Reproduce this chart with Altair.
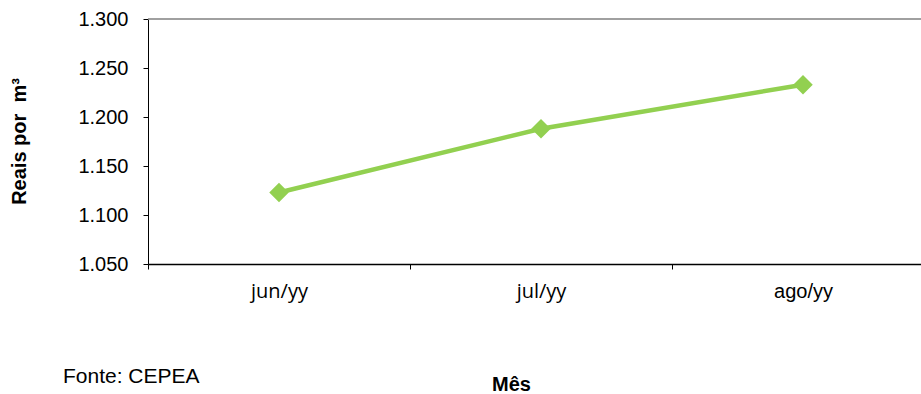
import altair as alt
import pandas as pd

# Monthly price series (reais per cubic metre)
months = ["jun/yy", "jul/yy", "ago/yy"]
prices = [1123, 1188, 1233]

y_ticks = [1050, 1100, 1150, 1200, 1250, 1300]
y_top = 1300
source_note = "Fonte: CEPEA"

df = pd.DataFrame({"mes": months, "preco": prices})

GREEN = "#92D050"
FONT = "Liberation Sans"

x_enc = alt.X(
    "mes:N",
    sort=months,
    scale=alt.Scale(type="band", range=[0, 786], paddingInner=0, paddingOuter=0),
    axis=alt.Axis(
        title="Mês",
        titleFont=FONT,
        titleFontSize=20,
        titleFontWeight="bold",
        titleColor="black",
        titleX=363,
        titleY=126,
        titleAlign="center",
        titleBaseline="alphabetic",
        labelFont={
            "condition": {"test": "datum.value == 'ago/yy'", "value": FONT},
            "value": "Open Sans",
        },
        labelFontSize=20,
        labelColor="black",
        labelAngle=0,
        labelPadding=12,
        tickBand="extent",
        tickSize=5,
        tickColor="black",
        domainColor="black",
        domainWidth=1.5,
        grid=False,
    ),
)

y_enc = alt.Y(
    "preco:Q",
    scale=alt.Scale(domain=[1050, 1300], nice=False, zero=False),
    axis=alt.Axis(
        title="Reais por\u00a0 m³",
        titleFont=FONT,
        titleFontSize=20,
        titleFontWeight="bold",
        titleColor="black",
        titleAngle=270,
        titleX=-129,
        titleY=122,
        titleAlign="center",
        titleBaseline="middle",
        values=y_ticks,
        labelExpr="replace(format(datum.value, ',.0f'), ',', '.')",
        labelFont=FONT,
        labelFontSize=20,
        labelColor="black",
        labelPadding=15,
        tickSize=5,
        tickColor="black",
        domainColor="black",
        domainWidth=1,
        grid=False,
    ),
)

base = alt.Chart(df)

top_rule = alt.Chart(pd.DataFrame({"v": [y_top]})).mark_rule(
    color="#808080", strokeWidth=1.5
).encode(y=alt.Y("v:Q", scale=alt.Scale(domain=[1050, 1300], nice=False, zero=False)))

line = base.mark_line(color=GREEN, strokeWidth=4.5).encode(x=x_enc, y=y_enc)

points = base.mark_point(
    shape="diamond", size=380, filled=True, color=GREEN, opacity=1
).encode(x=alt.X("mes:N", sort=months), y="preco:Q")

note = alt.Chart(pd.DataFrame({"t": [source_note]})).mark_text(
    align="left", baseline="middle", font=FONT, fontSize=21, color="black"
).encode(text="t:N", x=alt.value(-85), y=alt.value(358))

chart = (
    alt.layer(top_rule, line, points, note)
    .properties(
        width=773,
        height=245,
        autosize=alt.AutoSizeParams(type="none"),
        padding={"left": 148, "top": 19, "right": 0, "bottom": 130},
        background="white",
    )
    .configure_view(stroke=None)
)

chart.save("out.html", embed_options={"renderer": "svg", "actions": False})
